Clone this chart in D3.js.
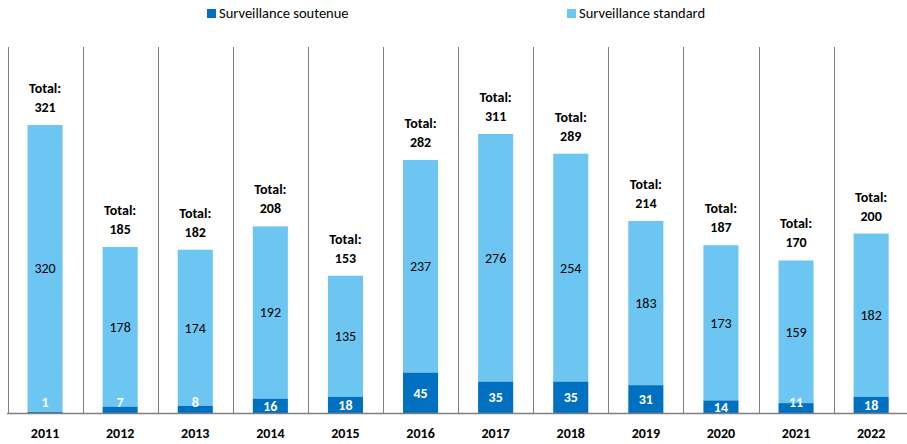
<!DOCTYPE html>
<html><head><meta charset="utf-8">
<script src="https://cdn.jsdelivr.net/npm/d3@7"></script>
<style>
body{margin:0;background:#fff;}
svg{display:block;font-family:Carlito,Calibri,Lato,"Open Sans",sans-serif;}
</style></head>
<body><svg id="c" width="907" height="444"></svg>
<script>
const years = ["2011","2012","2013","2014","2015","2016","2017","2018","2019","2020","2021","2022"];
const soutenue = [1,7,8,16,18,45,35,35,31,14,11,18];
const standard = [320,178,174,192,135,237,276,254,183,173,159,182];
const totals = [321,185,182,208,153,282,311,289,214,187,170,200];
const seriesNames = ["Surveillance soutenue","Surveillance standard"];
const colors = ["#0070C0","#6DC6F2"];

const svg = d3.select("#c");
const baseY = 413;
const x = d3.scaleBand().domain(years).range([7.5, 908.7]).padding(0);
const y = d3.scaleLinear().domain([0, 321]).range([baseY, 125]);
const barW = x.bandwidth() * 0.467;

// separators
const bounds = d3.range(years.length + 1).map(i => 7.5 + i * x.step());
svg.append("g").selectAll("line").data(bounds).join("line")
  .attr("x1", d => Math.round(d) + 0.5).attr("x2", d => Math.round(d) + 0.5)
  .attr("y1", 47).attr("y2", baseY)
  .attr("stroke", "#7f7f7f").attr("stroke-width", 1);

const data = years.map((yr, i) => ({yr, s: soutenue[i], t: standard[i], tot: totals[i]}));
const g = svg.append("g");
const cx = d => x(d.yr) + x.bandwidth() / 2;

// standard (light)
g.selectAll("rect.std").data(data).join("rect").attr("class", "std")
  .attr("x", d => cx(d) - barW / 2).attr("width", barW)
  .attr("y", d => y(d.s + d.t)).attr("height", d => y(d.s) - y(d.s + d.t))
  .attr("fill", colors[1]);
// soutenue (dark)
g.selectAll("rect.sout").data(data).join("rect").attr("class", "sout")
  .attr("x", d => cx(d) - barW / 2).attr("width", barW)
  .attr("y", d => y(d.s)).attr("height", d => y(0) - y(d.s))
  .attr("fill", colors[0]);

// baseline
svg.append("line").attr("x1", 7).attr("x2", 907).attr("y1", baseY + 0.5).attr("y2", baseY + 0.5)
  .attr("stroke", "#7f7f7f").attr("stroke-width", 1.3);

// labels light
g.selectAll("text.lstd").data(data).join("text")
  .attr("x", cx).attr("y", d => (y(d.s + d.t) + y(d.s)) / 2)
  .attr("dy", "0.35em").attr("text-anchor", "middle")
  .attr("font-size", 14).attr("fill", "#000").text(d => d.t);
// labels dark
g.selectAll("text.lsout").data(data).join("text")
  .attr("x", cx).attr("y", d => {
    const mid = (y(d.s) + y(0)) / 2;
    return (y(0) - y(d.s) < 10) ? baseY - 11 : mid;
  })
  .attr("dy", "0.35em").attr("text-anchor", "middle")
  .attr("font-size", 14).attr("font-weight", "bold").attr("fill", "#fff").text(d => d.s);
// totals
const tg = g.selectAll("g.tot").data(data).join("g");
tg.append("text").attr("x", cx).attr("y", d => y(d.tot) - 32)
  .attr("text-anchor", "middle").attr("font-size", 14).attr("font-weight", "bold").text("Total:");
tg.append("text").attr("x", cx).attr("y", d => y(d.tot) - 13)
  .attr("text-anchor", "middle").attr("font-size", 14).attr("font-weight", "bold").text(d => d.tot);

// x axis labels
g.selectAll("text.yr").data(years).join("text")
  .attr("x", d => x(d) + x.bandwidth() / 2).attr("y", 438)
  .attr("text-anchor", "middle").attr("font-size", 14).attr("font-weight", "bold").text(d => d);

// legend
const legX = [207, 567];
const lg = svg.append("g").selectAll("g").data(seriesNames).join("g")
  .attr("transform", (d, i) => `translate(${legX[i]},9)`);
lg.append("rect").attr("width", 9).attr("height", 9).attr("fill", (d, i) => colors[i]);
lg.append("text").attr("x", 12).attr("y", 9).attr("font-size", 14.5).attr("fill", "#000").text(d => d);
</script></body></html>
